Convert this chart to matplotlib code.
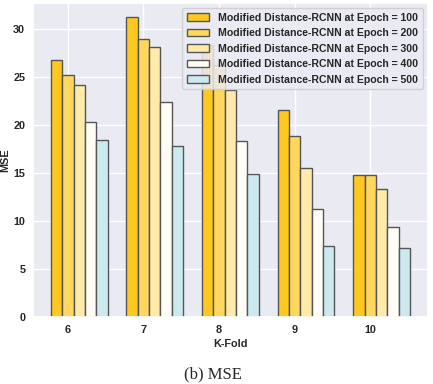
import numpy as np
import matplotlib
matplotlib.use("Agg")
import matplotlib.pyplot as plt
import seaborn as sns

sns.set_theme(style="darkgrid")
plt.rcParams['font.family'] = ['Liberation Sans', 'DejaVu Sans']

folds = [6, 7, 8, 9, 10]
mse_100 = [26.8, 31.3, 28.3, 21.6, 14.8]
mse_200 = [25.2, 29.0, 26.2, 18.9, 14.8]
mse_300 = [24.2, 28.1, 23.6, 15.5, 13.3]
mse_400 = [20.3, 22.4, 18.3, 11.2, 9.4]
mse_500 = [18.4, 17.8, 14.9, 7.4, 7.2]
labels = ["Modified Distance-RCNN at Epoch = 100",
          "Modified Distance-RCNN at Epoch = 200",
          "Modified Distance-RCNN at Epoch = 300",
          "Modified Distance-RCNN at Epoch = 400",
          "Modified Distance-RCNN at Epoch = 500"]
colors = ["#FFC820", "#FFD75E", "#FFEAAA", "#FFFDF5", "#CCE9F0"]

fig = plt.figure(figsize=(4.33, 3.84), dpi=100)
ax = fig.add_axes([0.076, 0.1745, 0.912, 0.8175])

x = np.array(folds)
w = 0.15
series = [mse_100, mse_200, mse_300, mse_400, mse_500]
for i, vals in enumerate(series):
    ax.bar(x + (i - 1) * w, vals, w, color=colors[i], edgecolor="#555555",
           linewidth=1.0, label=labels[i])

ax.set_xticks(x)
ax.set_xticklabels([str(f) for f in folds], fontweight="bold", fontsize=7.8)
ax.set_yticks([0, 5, 10, 15, 20, 25, 30])
ax.set_yticklabels(["0", "5", "10", "15", "20", "25", "30"], fontweight="bold", fontsize=7.8)
ax.set_ylim(0, 32.7)
ax.tick_params(axis="both", length=0, pad=5.5)
ax.set_xlabel("K-Fold", fontweight="bold", fontsize=7.8, labelpad=3)
ax.set_ylabel("MSE", fontweight="bold", fontsize=7.8, labelpad=2.5)

ax.legend(loc="upper right", prop={"weight": "bold", "size": 7.6}, framealpha=0.85,
          borderpad=0.45, labelspacing=0.52, handlelength=2.1, handletextpad=0.85,
          borderaxespad=0.45)

fig.text(0.492, 0.026, "(b) MSE", family="Liberation Serif", fontsize=12,
         ha="center", va="center")

fig.savefig("out.png", dpi=100)
